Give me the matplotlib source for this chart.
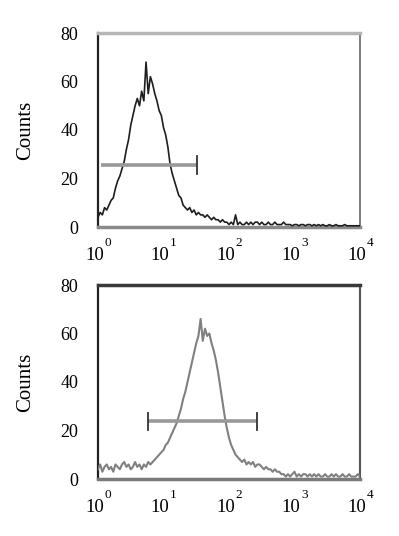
import numpy as np
import matplotlib
matplotlib.use("Agg")
import matplotlib.pyplot as plt

# ---- data ----
counts_top = [4, 6, 5, 8, 7, 9, 11, 12, 16, 19,
              21, 24, 27, 32, 36, 42, 46, 50, 53, 50,
              56, 52, 68, 55, 62, 59, 55, 52, 48, 46,
              41, 38, 33, 26, 22, 19, 16, 13, 12, 9,
              8, 7, 8, 6, 7, 5, 6, 5, 5, 4,
              5, 4, 3, 4, 3, 3, 2, 3, 2, 2,
              1, 2, 1, 5, 1, 2, 1, 1, 2, 1,
              2, 1, 2, 2, 1, 2, 1, 1, 2, 1,
              1, 2, 1, 1, 1, 2, 1, 1, 1, 0.5,
              1, 1, 0.5, 1, 1, 0.5, 1, 1, 0.5, 1,
              0.5, 1, 0.5, 1, 0.5, 0.5, 1, 0.5, 0.5, 1,
              0.5, 0.5, 0.5, 1, 0.5, 0.5, 0.5, 0.5, 0.5, 0.5, 0.5]
counts_bottom = [4, 6, 3, 5, 6, 4, 5, 3, 6, 5,
                 4, 6, 7, 5, 6, 4, 5, 7, 5, 6,
                 4, 6, 5, 7, 6, 7, 8, 9, 10, 11,
                 12, 14, 15, 17, 19, 21, 23, 26, 29, 33,
                 36, 40, 44, 48, 52, 56, 59, 66, 57, 62,
                 59, 60, 56, 53, 49, 44, 38, 32, 26, 21,
                 17, 14, 12, 10, 9, 8, 7, 8, 6, 7,
                 6, 7, 5, 6, 6, 5, 4, 5, 4, 4,
                 3, 4, 3, 3, 2, 2, 1, 2, 1, 2,
                 3, 1, 2, 1, 2, 2, 1, 2, 1, 2,
                 1, 2, 1, 1, 2, 1, 1, 2, 1, 2,
                 1, 1, 2, 1, 1, 2, 1, 1, 1, 2, 1]
# marker gates (log10 decades) and their heights
gate_top = [0.05, 1.51]
gate_top_y = 25.5
gate_bottom = [0.76, 2.42]
gate_bottom_y = 23.8
yticks = [0, 20, 40, 60, 80]
xdecades = [0, 1, 2, 3, 4]

W, H = 399, 536
fig = plt.figure(figsize=(W / 100, H / 100), dpi=100)
serif = "Liberation Serif"


def make_panel(rect, counts, line_color, line_w, gate, gate_y, left_tick, spine_cfg):
    ax = fig.add_axes(rect)
    lx = np.linspace(0, 4, len(counts))
    ax.plot(10 ** lx, counts, color=line_color, lw=line_w, zorder=3)
    ax.set_xscale("log")
    ax.set_xlim(1, 1e4)
    ax.set_ylim(0, 80)
    # gate bar
    g0, g1 = 10 ** gate[0], 10 ** gate[1]
    ax.plot([g0, g1], [gate_y, gate_y], color="#999999", lw=2.6,
            solid_capstyle="butt", zorder=4)
    ends = [g1] if not left_tick else [g0, g1]
    for e in ends:
        ax.plot([e, e], [gate_y - 3.6, gate_y + 3.6], color="#333333",
                lw=1.3, zorder=5)
    ax.set_yticks(yticks)
    ax.set_yticklabels([str(v) for v in yticks], fontfamily=serif, fontsize=13)
    ax.tick_params(axis="y", length=0, pad=14)
    ax.set_xticks([10 ** d for d in xdecades])
    ax.set_xticklabels([])
    ax.minorticks_off()
    ax.tick_params(axis="x", length=0)
    for d in xdecades:
        ax.annotate("10", xy=(10 ** d, 0), xycoords=("data", "axes fraction"),
                    xytext=(-3.5, -29), textcoords="offset pixels",
                    ha="center", va="center", fontfamily=serif, fontsize=13.5)
        ax.annotate(str(d), xy=(10 ** d, 0), xycoords=("data", "axes fraction"),
                    xytext=(10, -16), textcoords="offset pixels",
                    ha="center", va="center", fontfamily=serif, fontsize=9.5)
    for name, (c, lw) in spine_cfg.items():
        ax.spines[name].set_color(c)
        ax.spines[name].set_linewidth(lw)
    ax.set_ylabel("Counts", fontfamily=serif, fontsize=15)
    ax.yaxis.set_label_coords((35 - 98) / 262, 0.5)
    return ax


ax1 = make_panel([98 / W, 1 - 227 / H, 262 / W, 194 / H], counts_top, "#1e1e1e", 1.2,
                 gate_top, gate_top_y, False,
                 {"top": ("#b5b5b5", 2.5), "bottom": ("#8a8a8a", 2.5),
                  "left": ("#222222", 1.6), "right": ("#666666", 1.2)})
ax2 = make_panel([98 / W, 1 - 479 / H, 262 / W, 194 / H], counts_bottom, "#808080", 1.5,
                 gate_bottom, gate_bottom_y, True,
                 {"top": ("#3a3a3a", 2.5), "bottom": ("#7a7a7a", 2.5),
                  "left": ("#222222", 1.6), "right": ("#555555", 1.5)})

fig.savefig("out.png", dpi=100)
